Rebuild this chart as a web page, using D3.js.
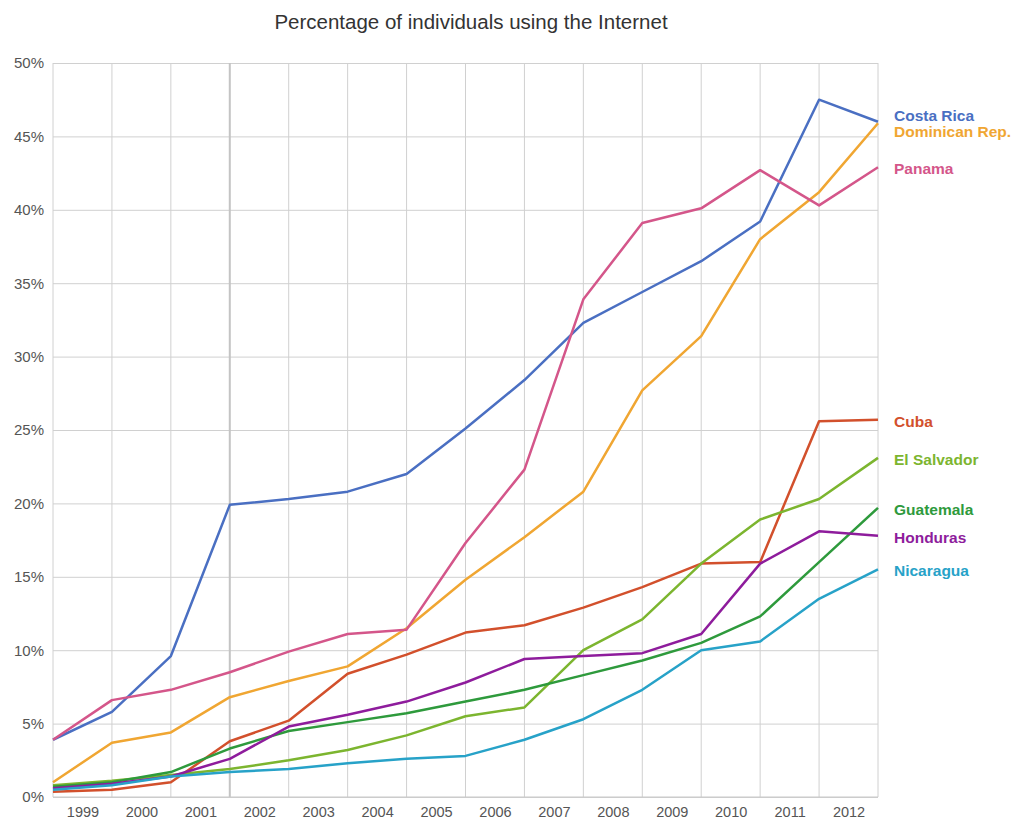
<!DOCTYPE html>
<html>
<head>
<meta charset="utf-8">
<script src="https://cdn.jsdelivr.net/npm/d3@7"></script>
<style>
  html, body { margin: 0; padding: 0; background: #fff; }
  svg { display: block; font-family: "Liberation Sans", Arial, sans-serif; }
</style>
</head>
<body>
<svg id="chart" width="1012" height="822"></svg>
<script>
// ---- data ----
const chartTitle = "Percentage of individuals using the Internet";
const yearLabels = ["1999","2000","2001","2002","2003","2004","2005","2006","2007","2008","2009","2010","2011","2012"];
const yTicks = [0, 5, 10, 15, 20, 25, 30, 35, 40, 45, 50];

const countries = ["Costa Rica","Dominican Rep.","Panama","Cuba","El Salvador","Guatemala","Honduras","Nicaragua"];
const costaRica  = [3.9, 5.8, 9.6, 19.9, 20.3, 20.8, 22.0, 25.1, 28.4, 32.3, 34.4, 36.5, 39.2, 47.5, 46.0];
const dominican  = [1.0, 3.7, 4.4, 6.8, 7.9, 8.9, 11.5, 14.8, 17.7, 20.8, 27.7, 31.4, 38.0, 41.2, 45.9];
const panama     = [3.9, 6.6, 7.3, 8.5, 9.9, 11.1, 11.4, 17.3, 22.3, 33.9, 39.1, 40.1, 42.7, 40.3, 42.9];
const cuba       = [0.35, 0.5, 1.0, 3.8, 5.2, 8.4, 9.7, 11.2, 11.7, 12.9, 14.3, 15.9, 16.0, 25.6, 25.7];
const elSalvador = [0.8, 1.1, 1.5, 1.9, 2.5, 3.2, 4.2, 5.5, 6.1, 10.0, 12.1, 15.9, 18.9, 20.3, 23.1];
const guatemala  = [0.7, 1.0, 1.7, 3.3, 4.5, 5.1, 5.7, 6.5, 7.3, 8.3, 9.3, 10.5, 12.3, 16.0, 19.7];
const honduras   = [0.6, 0.9, 1.4, 2.6, 4.8, 5.6, 6.5, 7.8, 9.4, 9.6, 9.8, 11.1, 15.9, 18.1, 17.8];
const nicaragua  = [0.5, 0.8, 1.4, 1.7, 1.9, 2.3, 2.6, 2.8, 3.9, 5.3, 7.3, 10.0, 10.6, 13.5, 15.5];
const seriesValues = [costaRica, dominican, panama, cuba, elSalvador, guatemala, honduras, nicaragua];
const colors = ["#4a6fc2", "#f0a632", "#d4568a", "#d2502c", "#7cb52f", "#2e9a3c", "#8e1c9c", "#27a2c8"];

// ---- layout ----
const svg = d3.select("#chart");
const L = 53, R = 878, T = 63, B = 797;
const nPts = costaRica.length;
const x = d3.scaleLinear().domain([0, nPts - 1]).range([L, R]);
const y = d3.scaleLinear().domain([0, 50]).range([B, T]);

// title
svg.append("text")
  .attr("x", 471).attr("y", 29)
  .attr("text-anchor", "middle")
  .attr("font-size", 20.5).attr("fill", "#333")
  .text(chartTitle);

// horizontal gridlines + y labels
const yAxis = d3.axisLeft(y).tickValues(yTicks).tickSize(-(R - L)).tickPadding(9)
  .tickFormat(d => d + "%");
const gy = svg.append("g").attr("transform", `translate(${L},0)`).call(yAxis);
gy.select(".domain").remove();
gy.selectAll(".tick line").attr("stroke", "#d0d0d0").attr("stroke-width", 1);
gy.selectAll(".tick text").attr("font-size", 15).attr("fill", "#555")
  .attr("font-family", "'Liberation Sans', Arial, sans-serif");

// vertical gridlines
const idx = d3.range(nPts);
svg.append("g").selectAll("line").data(idx).join("line")
  .attr("x1", d => x(d)).attr("x2", d => x(d))
  .attr("y1", T).attr("y2", B)
  .attr("stroke", d => d === 3 ? "#c4c4c4" : "#d0d0d0")
  .attr("stroke-width", d => d === 3 ? 2 : 1);

// bottom axis line
svg.append("line").attr("x1", L).attr("x2", R).attr("y1", B).attr("y2", B)
  .attr("stroke", "#c8c8c8").attr("stroke-width", 1);

// x labels (centered between gridlines)
const xAxis = d3.axisBottom(x).tickValues(yearLabels.map((_, i) => i + 0.5))
  .tickSize(0).tickPadding(10).tickFormat((d, i) => yearLabels[i]);
const gx = svg.append("g").attr("transform", `translate(0,${B})`).call(xAxis);
gx.select(".domain").remove();
gx.selectAll(".tick text").attr("font-size", 14.5).attr("fill", "#555")
  .attr("font-family", "'Liberation Sans', Arial, sans-serif");

// lines
const line = d3.line().x((d, i) => x(i)).y(d => y(d));
svg.append("g").selectAll("path").data(seriesValues).join("path")
  .attr("d", d => line(d))
  .attr("fill", "none")
  .attr("stroke", (d, i) => colors[i])
  .attr("stroke-width", 2.5)
  .attr("stroke-linejoin", "round");

// end labels with collision avoidance
const minGap = 16;
let labels = countries.map((c, i) => ({ name: c, color: colors[i], target: y(seriesValues[i][nPts - 1]) }));
labels.sort((a, b) => a.target - b.target);
let clusters = labels.map(l => ({ items: [l], center: l.target }));
let merged = true;
while (merged) {
  merged = false;
  for (let i = 0; i < clusters.length - 1; i++) {
    const a = clusters[i], b = clusters[i + 1];
    const aBottom = a.center + (a.items.length - 1) * minGap / 2;
    const bTop = b.center - (b.items.length - 1) * minGap / 2;
    if (bTop - aBottom < minGap) {
      const items = a.items.concat(b.items);
      const center = d3.mean(items, d => d.target);
      clusters.splice(i, 2, { items, center });
      merged = true;
      break;
    }
  }
}
clusters.forEach(c => {
  const n = c.items.length;
  c.items.forEach((it, k) => { it.pos = c.center + (k - (n - 1) / 2) * minGap; });
});

svg.append("g").selectAll("text").data(labels).join("text")
  .attr("x", R + 16)
  .attr("y", d => d.pos + 1.5)
  .attr("dy", "0.35em")
  .attr("font-size", 15.5)
  .attr("font-weight", "bold")
  .attr("fill", d => d.color)
  .text(d => d.name);
</script>
</body>
</html>
